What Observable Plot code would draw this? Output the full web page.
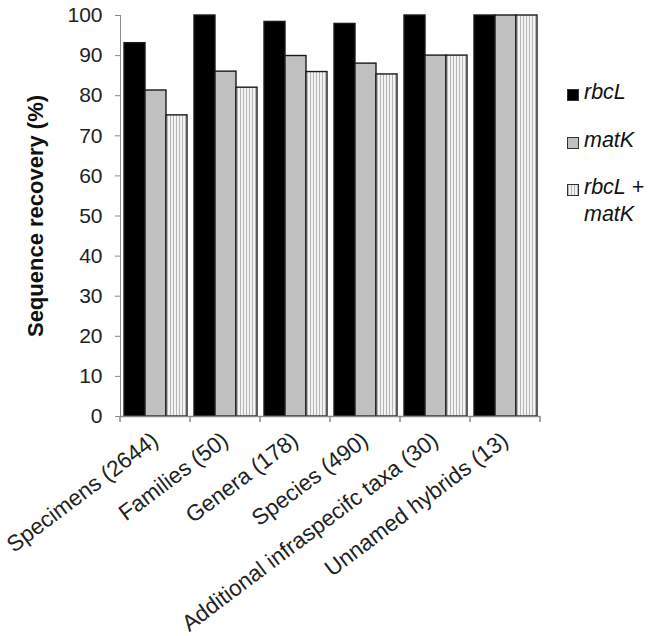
<!DOCTYPE html>
<html>
<head>
<meta charset="utf-8">
<script src="https://cdn.jsdelivr.net/npm/d3@7"></script>
<script src="https://cdn.jsdelivr.net/npm/@observablehq/plot@0.6"></script>
<style>
  body { margin: 0; background: #fff; font-family: "Liberation Sans", Arial, sans-serif; }
  #wrap { position: relative; width: 653px; height: 636px; }
  #wrap svg g[aria-label*="tick label"] { fill: #222; }
  #wrap svg g[aria-label="fx-axis tick label"] { font-size: 22.5px; }
  #wrap svg g[aria-label="y-axis label"] { fill: #111; font-weight: bold; font-size: 22px; }
  .leg { position: absolute; left: 584px; font-style: italic; font-size: 21.5px; line-height: 27px; color: #111; white-space: nowrap; }
  .sw { position: absolute; left: 567px; width: 10px; height: 10px; border: 1.5px solid #333; }
</style>
</head>
<body>
<div id="wrap"></div>
<script>
const categories = ["Specimens (2644)", "Families (50)", "Genera (178)", "Species (490)", "Additional infraspecifc taxa (30)", "Unnamed hybrids (13)"];
const series = ["rbcL", "matK", "rbcL + matK"];
const rbcL = [93.1, 100, 98.4, 97.9, 100, 100];
const matK = [81.3, 86.0, 89.9, 88.0, 90.0, 100];
const both = [75.1, 82.0, 85.9, 85.3, 90.0, 100];
const yTicks = [0, 10, 20, 30, 40, 50, 60, 70, 80, 90, 100];
const seriesFill = ["#000000", "#c0c0c0", "url(#stripes)"];

const values = [rbcL, matK, both];
const data = categories.flatMap((c, i) => series.map((s, j) => ({category: c, series: s, value: values[j][i]})));

const chart = Plot.plot({
  width: 653,
  height: 636,
  marginLeft: 118,
  marginRight: 112,
  marginTop: 15,
  marginBottom: 220,
  style: {fontFamily: '"Liberation Sans", Arial, sans-serif', fontSize: "21px", color: "#8a8a8a", background: "white"},
  fx: {domain: categories, padding: 0, label: null},
  x: {domain: series, axis: null, paddingInner: 0, paddingOuter: 0.12},
  y: {domain: [0, 100], ticks: yTicks, tickSize: 5, tickPadding: 13, line: true,
      label: "Sequence recovery (%)", labelAnchor: "center", labelOffset: 93, labelArrow: "none"},
  color: {domain: series, range: seriesFill},
  marks: [
    Plot.barY(data, {fx: "category", x: "series", y: "value", fill: "series", stroke: "#1a1a1a", strokeWidth: 1.4, inset: 0}),
    Plot.ruleY([0], {stroke: "#8a8a8a", strokeWidth: 1.5}),
    Plot.axisFx({anchor: "bottom", label: null, tickSize: 0, tickPadding: 21, tickRotate: -37, dx: 0})
  ]
});

// stripe pattern for the combined series
const defs = d3.select(chart).insert("defs", ":first-child");
const pat = defs.append("pattern").attr("id", "stripes").attr("patternUnits", "userSpaceOnUse").attr("width", 3).attr("height", 10);
pat.append("rect").attr("width", 3).attr("height", 10).attr("fill", "#f3f3f3");
pat.append("rect").attr("width", 1).attr("height", 10).attr("fill", "#b5b5b5");

// category boundary ticks on the x axis, from the fx scale
const fx = chart.scale("fx");
const y = chart.scale("y");
const y0 = y.apply(0);
const edges = categories.map(c => fx.apply(c)).concat([fx.apply(categories[categories.length - 1]) + fx.bandwidth]);
d3.select(chart).append("g").attr("stroke", "#8a8a8a").attr("stroke-width", 1.5)
  .selectAll("line").data(edges).join("line")
  .attr("x1", d => d).attr("x2", d => d).attr("y1", y0).attr("y2", y0 + 6);

const wrap = document.getElementById("wrap");
wrap.appendChild(chart);

// legend
const legendItems = [
  {label: "rbcL", lines: ["rbcL"], top: 79},
  {label: "matK", lines: ["matK"], top: 127},
  {label: "rbcL + matK", lines: ["rbcL +", "matK"], top: 174}
];
legendItems.forEach((it, i) => {
  const sw = document.createElement("div");
  sw.className = "sw";
  sw.style.top = (it.top + 10) + "px";
  sw.style.background = i === 2 ? "repeating-linear-gradient(90deg, #b5b5b5 0 1px, #f3f3f3 1px 3px)" : seriesFill[i];
  wrap.appendChild(sw);
  const t = document.createElement("div");
  t.className = "leg";
  t.style.top = it.top + "px";
  t.innerHTML = it.lines.join("<br>");
  wrap.appendChild(t);
});
</script>
</body>
</html>
